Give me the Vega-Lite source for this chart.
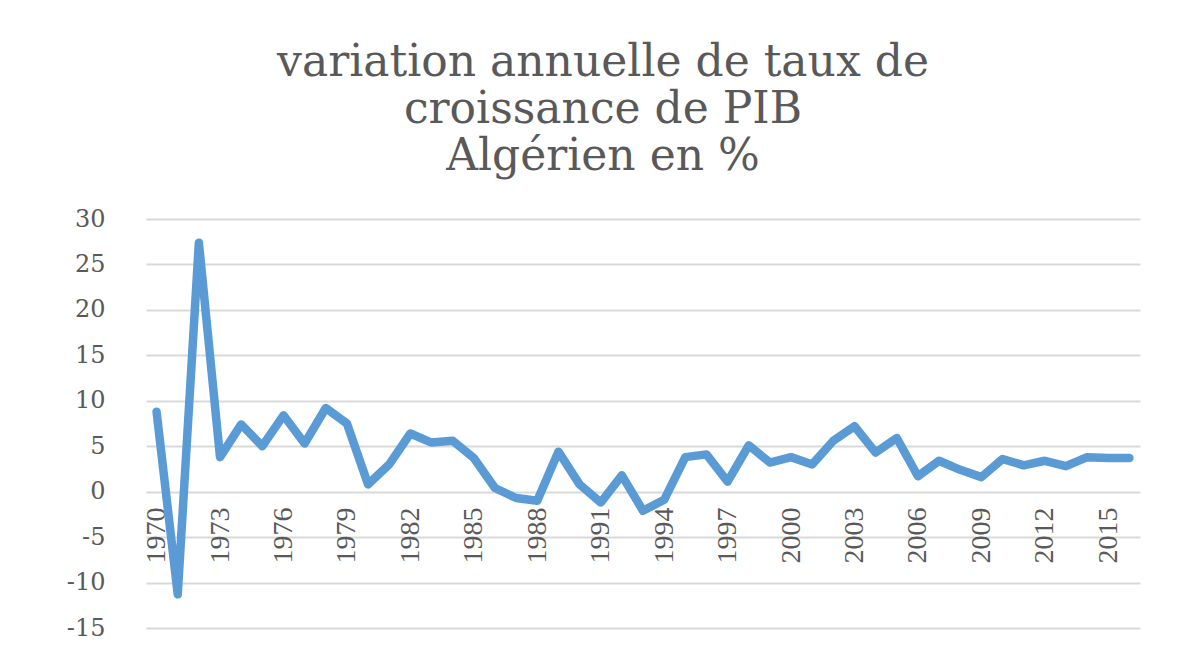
{
  "$schema": "https://vega.github.io/schema/vega-lite/v6.json",
  "width": 994,
  "height": 409,
  "autosize": {"type": "none"},
  "padding": {"left": 146, "right": 43, "top": 219, "bottom": 27},
  "background": "white",
  "title": {
    "text": ["variation annuelle de taux de", "croissance de PIB", "Algérien en %"],
    "font": "DejaVu Serif",
    "fontSize": 44,
    "fontWeight": "normal",
    "color": "#595959",
    "lineHeight": 47,
    "anchor": "middle",
    "dx": -40,
    "offset": 28
  },
  "data": {
    "values": [
      {"year": 1970, "growth": 8.8},
      {"year": 1971, "growth": -11.3},
      {"year": 1972, "growth": 27.4},
      {"year": 1973, "growth": 3.8},
      {"year": 1974, "growth": 7.4},
      {"year": 1975, "growth": 5.0},
      {"year": 1976, "growth": 8.4},
      {"year": 1977, "growth": 5.3},
      {"year": 1978, "growth": 9.2},
      {"year": 1979, "growth": 7.5},
      {"year": 1980, "growth": 0.8},
      {"year": 1981, "growth": 3.0},
      {"year": 1982, "growth": 6.4},
      {"year": 1983, "growth": 5.4},
      {"year": 1984, "growth": 5.6},
      {"year": 1985, "growth": 3.7},
      {"year": 1986, "growth": 0.4},
      {"year": 1987, "growth": -0.7},
      {"year": 1988, "growth": -1.0},
      {"year": 1989, "growth": 4.4},
      {"year": 1990, "growth": 0.8},
      {"year": 1991, "growth": -1.2},
      {"year": 1992, "growth": 1.8},
      {"year": 1993, "growth": -2.1},
      {"year": 1994, "growth": -0.9},
      {"year": 1995, "growth": 3.8},
      {"year": 1996, "growth": 4.1},
      {"year": 1997, "growth": 1.1},
      {"year": 1998, "growth": 5.1},
      {"year": 1999, "growth": 3.2},
      {"year": 2000, "growth": 3.8},
      {"year": 2001, "growth": 3.0},
      {"year": 2002, "growth": 5.6},
      {"year": 2003, "growth": 7.2},
      {"year": 2004, "growth": 4.3},
      {"year": 2005, "growth": 5.9},
      {"year": 2006, "growth": 1.7},
      {"year": 2007, "growth": 3.4},
      {"year": 2008, "growth": 2.4},
      {"year": 2009, "growth": 1.6},
      {"year": 2010, "growth": 3.6},
      {"year": 2011, "growth": 2.9},
      {"year": 2012, "growth": 3.4},
      {"year": 2013, "growth": 2.8},
      {"year": 2014, "growth": 3.8},
      {"year": 2015, "growth": 3.7},
      {"year": 2016, "growth": 3.7}
    ]
  },
  "mark": {
    "type": "line",
    "color": "#5b9bd5",
    "strokeWidth": 8.5,
    "strokeCap": "round",
    "strokeJoin": "round"
  },
  "encoding": {
    "x": {
      "field": "year",
      "type": "quantitative",
      "scale": {"domain": [1969.5, 2016.5], "nice": false, "zero": false},
      "axis": {
        "title": null,
        "values": [1970, 1973, 1976, 1979, 1982, 1985, 1988, 1991, 1994, 1997, 2000, 2003, 2006, 2009, 2012, 2015],
        "format": "d",
        "grid": false,
        "domain": false,
        "ticks": false,
        "offset": -136,
        "labelAngle": -90,
        "labelFont": "Liberation Serif",
        "labelFontSize": 28,
        "labelColor": "#595959",
        "labelPadding": 15,
        "labelFlush": false,
        "labelOverlap": false
      }
    },
    "y": {
      "field": "growth",
      "type": "quantitative",
      "scale": {"domain": [-15, 30], "nice": false, "zero": false},
      "axis": {
        "title": null,
        "values": [-15, -10, -5, 0, 5, 10, 15, 20, 25, 30],
        "labelExpr": "replace(datum.label, '\u2212', '-')",
        "grid": true,
        "gridColor": "#d9d9d9",
        "gridWidth": 2,
        "domain": false,
        "ticks": false,
        "labelFont": "DejaVu Serif",
        "labelFontSize": 24,
        "labelColor": "#595959",
        "labelPadding": 41
      }
    }
  },
  "config": {
    "view": {"stroke": null}
  }
}
